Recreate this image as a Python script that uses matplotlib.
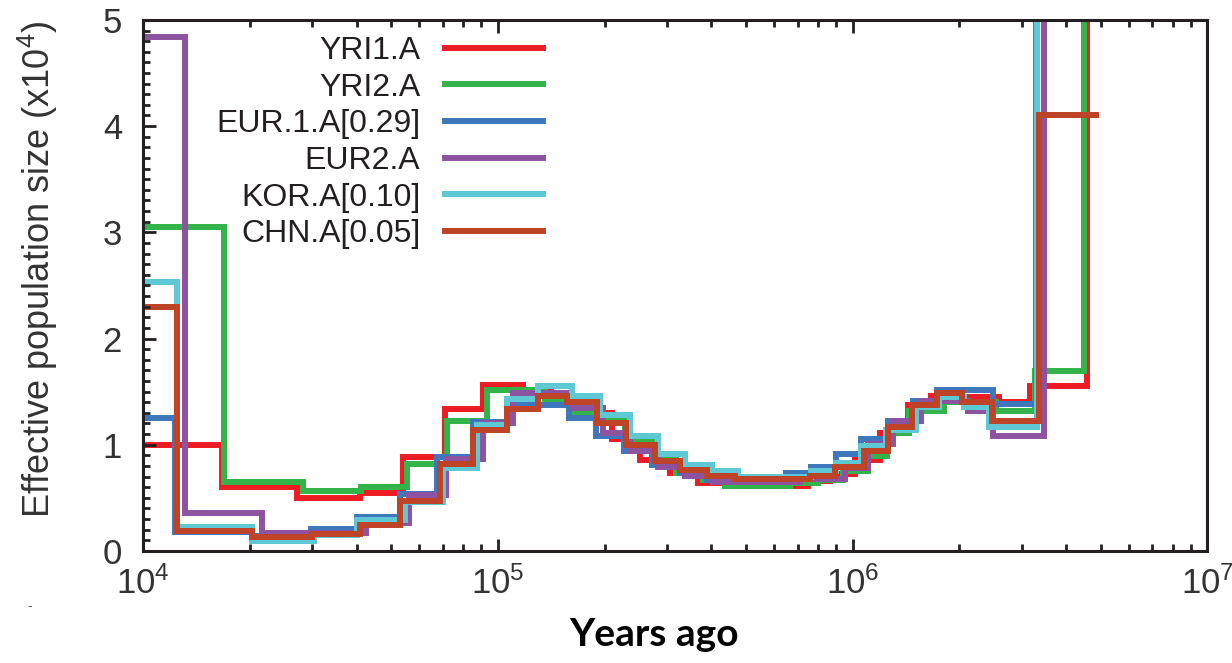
import matplotlib
matplotlib.use('Agg')
import matplotlib.pyplot as plt
from matplotlib.ticker import MultipleLocator, LogLocator

plt.rcParams['font.family'] = ['Liberation Sans', 'DejaVu Sans']
plt.rcParams['mathtext.default'] = 'regular'

# years ago (step edges) and effective population size (x10^4)
yri1_edges = [9000, 16700, 27100, 40900, 54000, 70900, 90700, 117600, 141100, 172400,
              209500, 251200, 305100, 365900, 436000, 746800, 861300, 1013000, 1192000,
              1429000, 1669000, 2002000, 2595000, 3172000, 4592000, 4800000]
yri1_ne = [1.00, 0.60, 0.50, 0.55, 0.88, 1.34, 1.56, 1.50, 1.42, 1.30, 1.05, 0.86, 0.73,
           0.64, 0.61, 0.66, 0.72, 0.86, 1.11, 1.37, 1.46, 1.45, 1.40, 1.55, 8.0]

yri2_edges = [9000, 16900, 28200, 41100, 55400, 71800, 93100, 135700, 159500, 191300,
              227900, 271500, 317200, 378000, 436000, 664500, 796900, 937200, 1102000,
              1247000, 1438000, 1816000, 2545000, 3277000, 4502000, 4700000]
yri2_ne = [3.05, 0.65, 0.565, 0.60, 0.82, 1.22, 1.52, 1.42, 1.30, 1.22, 1.04, 0.87, 0.73,
           0.67, 0.61, 0.64, 0.67, 0.75, 0.89, 1.11, 1.32, 1.40, 1.32, 1.69, 8.0]

eur1_edges = [9000, 12300, 20300, 29700, 40100, 53000, 67300, 85000, 106000, 158500,
              188800, 226400, 271500, 325600, 387900, 459200, 647500, 761500, 895600,
              1053000, 1255000, 1476000, 1725000, 2480000, 3298000, 3400000]
eur1_ne = [1.255, 0.18, 0.14, 0.21, 0.32, 0.54, 0.88, 1.21, 1.37, 1.25, 1.08, 0.94, 0.81,
           0.73, 0.67, 0.66, 0.73, 0.79, 0.91, 1.05, 1.22, 1.41, 1.52, 1.38, 8.0]

eur2_edges = [9000, 13100, 21600, 42500, 56200, 71400, 90700, 110200, 161600, 197600,
              235400, 282200, 336300, 403400, 709100, 949600, 1109000, 1297000, 1555000,
              2109000, 2480000, 3473000, 3600000]
eur2_ne = [4.84, 0.36, 0.17, 0.26, 0.53, 0.87, 1.20, 1.49, 1.35, 1.11, 0.94, 0.79, 0.71,
           0.65, 0.68, 0.78, 1.01, 1.22, 1.41, 1.32, 1.08, 8.0]

kor_edges = [9000, 12500, 20300, 30300, 40100, 54700, 70000, 87300, 106000, 129700,
             161600, 193800, 235400, 282200, 336300, 400800, 474400, 761500, 895600,
             1053000, 1239000, 1505000, 1758000, 2055000, 2432000, 3319000, 3400000]
kor_ne = [2.53, 0.23, 0.09, 0.15, 0.29, 0.46, 0.78, 1.19, 1.43, 1.55, 1.46, 1.28, 1.08,
          0.91, 0.81, 0.75, 0.70, 0.75, 0.83, 0.99, 1.14, 1.36, 1.45, 1.36, 1.17, 8.0]

chn_edges = [9000, 12500, 20300, 29900, 40900, 52900, 68700, 85100, 105900, 129600,
             156400, 190100, 229500, 276900, 325800, 388100, 465500, 757300, 890100,
             1074000, 1255000, 1467000, 1725000, 2029000, 2479000, 3362000, 4964000]
chn_ne = [2.30, 0.19, 0.127, 0.16, 0.245, 0.47, 0.82, 1.14, 1.34, 1.46, 1.40, 1.20, 1.00,
          0.85, 0.76, 0.71, 0.68, 0.71, 0.79, 0.94, 1.17, 1.37, 1.49, 1.40, 1.22, 4.10]

labels = ['YRI1.A', 'YRI2.A', 'EUR.1.A[0.29]', 'EUR2.A', 'KOR.A[0.10]', 'CHN.A[0.05]']
colors = ['#ED1C24', '#33B34A', '#3F77BC', '#8D53A1', '#5EC8D5', '#BE4327']
series = [(yri1_edges, yri1_ne), (yri2_edges, yri2_ne), (eur1_edges, eur1_ne),
          (eur2_edges, eur2_ne), (kor_edges, kor_ne), (chn_edges, chn_ne)]

fig = plt.figure(figsize=(12.32, 6.63), dpi=100)
ax = fig.add_axes([0.116, 0.169, 0.864, 0.801])

for (edges, ne), lab, col in zip(series, labels, colors):
    st = ax.stairs(ne, edges, baseline=None, color=col, linewidth=4.3, label=lab)
    st.set_joinstyle('miter')
    st.set_capstyle('butt')

ax.set_xscale('log')
ax.set_xlim(1e4, 1e7)
ax.set_ylim(0, 5)
ax.yaxis.set_major_locator(MultipleLocator(1))
ax.yaxis.set_minor_locator(MultipleLocator(0.1))
ax.xaxis.set_minor_locator(LogLocator(base=10, subs=range(2, 10)))

for s in ax.spines.values():
    s.set_linewidth(2.2)
    s.set_color('#231f20')

ax.tick_params(which='both', direction='in', top=True, right=False, color='#231f20',
               width=2, labelsize=25, labelcolor='#333333')
ax.tick_params(which='major', length=9)
ax.tick_params(which='minor', length=5)
ax.tick_params(axis='x', pad=11)
ax.tick_params(axis='y', pad=15)

leg = ax.legend(loc='upper right', bbox_to_anchor=(0.376, 0.97), markerfirst=False,
                frameon=False, fontsize=23, handlelength=3.07, handletextpad=0.78,
                labelspacing=0.21, borderpad=0, borderaxespad=0)
for t in leg.get_texts():
    t.set_color('#231f20')

fig.text(0.031, 0.593, 'Effective population size (x10$^4$)', rotation=90,
         ha='center', va='center', fontsize=26, color='#333333')
fig.text(0.531, 0.043, 'Years ago', ha='center', va='center', fontsize=28,
         fontweight='bold', family='Lato')
fig.text(0.022, 0.08, '-', fontsize=10, color='#555555')

fig.savefig('out.png', dpi=100)
